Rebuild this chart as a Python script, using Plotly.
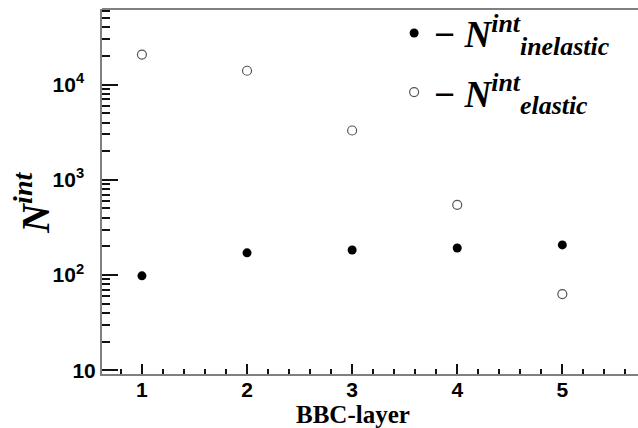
import plotly.graph_objects as go

layers = [1, 2, 3, 4, 5]
n_inelastic = [98, 171, 183, 192, 207]
n_elastic = [20700, 14000, 3300, 546, 63]

ytick_vals = [10, 100, 1000, 10000]
ytick_text = ["<b>10</b>", "<b>10<sup>2</sup></b>&nbsp;&nbsp;", "<b>10<sup>3</sup></b>&nbsp;&nbsp;", "<b>10<sup>4</sup></b>&nbsp;&nbsp;"]
xtick_vals = [1, 2, 3, 4, 5]
xtick_text = ["<b>1</b>", "<b>2</b>", "<b>3</b>", "<b>4</b>", "<b>5</b>"]

SANS = "Liberation Sans, Arial, sans-serif"
SERIF = "Times New Roman, Liberation Serif, serif"

fig = go.Figure()
fig.add_trace(go.Scatter(
    x=layers, y=n_inelastic, mode="markers",
    marker=dict(symbol="circle", size=9, color="black", line=dict(width=0)),
    name="<b>−</b> <b><i>N</i></b><sup><b><i>int</i></b></sup><sub><b><i>inelastic</i></b></sub>",
    legendgroup="a",
))
fig.add_trace(go.Scatter(
    x=layers, y=n_elastic, mode="markers",
    marker=dict(symbol="circle-open", size=9, color="#555555", line=dict(width=1.2)),
    name="<b>−</b> <b><i>N</i></b><sup><b><i>int</i></b></sup><sub><b><i>elastic</i></b></sub>",
    legendgroup="b",
))

fig.update_layout(
    width=638, height=428,
    margin=dict(l=102, r=0, t=9, b=54),
    paper_bgcolor="white", plot_bgcolor="white",
    showlegend=True,
    legend=dict(
        x=0.545, y=1.018, xanchor="left", yanchor="top",
        font=dict(family=SERIF, size=37, color="black"),
        bgcolor="rgba(0,0,0,0)", itemwidth=30, tracegroupgap=8,
    ),
    xaxis=dict(
        range=[0.62, 5.72], showgrid=False, zeroline=False,
        showline=True, linecolor="#808080", linewidth=2, mirror=False,
        ticks="inside", ticklen=10, tickcolor="#111111", tickwidth=1.5,
        tickvals=xtick_vals, ticktext=xtick_text, ticklabelstandoff=-4,
        tickfont=dict(family=SANS, size=21, color="black"),
        minor=dict(ticks="inside", ticklen=5, tickcolor="#111111", tickwidth=1.5, dtick=0.2, tick0=0, showgrid=False),
    ),
    yaxis=dict(
        type="log", range=[0.96, 4.795], showgrid=False, zeroline=False,
        showline=True, linecolor="#808080", linewidth=2, mirror=False,
        ticks="inside", ticklen=16, tickcolor="#111111", tickwidth=1.5,
        tickvals=ytick_vals, ticktext=ytick_text, ticklabelstandoff=0,
        tickfont=dict(family=SANS, size=21, color="black"),
        minor=dict(ticks="inside", ticklen=8, tickcolor="#111111", tickwidth=1.5, dtick="D1", showgrid=False),
    ),
    shapes=[dict(type="line", xref="paper", yref="paper", x0=0, x1=1, y0=1, y1=1,
                 line=dict(color="#808080", width=2))],
    annotations=[
        dict(text="<b>BBC-layer</b>", xref="paper", yref="paper", x=0.468, y=-0.112,
             xanchor="center", yanchor="middle", showarrow=False,
             font=dict(family=SERIF, size=25, color="black")),
        dict(text="<b><i>N</i></b><sup><b><i>int</i></b></sup>", xref="paper", yref="paper",
             x=-0.13, y=0.47, xanchor="center", yanchor="middle", textangle=-90, showarrow=False,
             font=dict(family=SERIF, size=40, color="black")),
    ],
)

fig.write_html("out.html")
